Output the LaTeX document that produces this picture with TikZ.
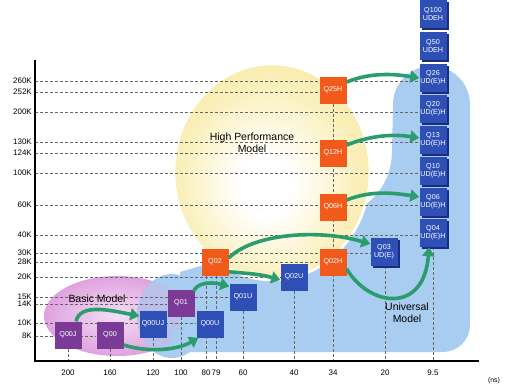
\documentclass[tikz,border=0pt]{standalone}
\usepackage{fontspec}
\setmainfont{Liberation Sans}
\usetikzlibrary{arrows.meta,calc,shadows}
\definecolor{purplec}{HTML}{7B3A96}
\definecolor{bluec}{HTML}{2E4FB6}
\definecolor{navyc}{HTML}{1B2C80}
\definecolor{orangec}{HTML}{F25A1C}
\definecolor{greenc}{HTML}{2A9C6E}
\definecolor{skyc}{HTML}{A9CDF0}
\definecolor{yellowc}{HTML}{F6E38A}
\definecolor{paleyc}{HTML}{FAF0BC}
\definecolor{pinkc}{HTML}{DFA2DF}
\definecolor{dashc}{HTML}{666666}
\pgfdeclareradialshading{yshade}{\pgfpoint{-2bp}{-4bp}}{color(0bp)=(white); color(7bp)=(white); color(22bp)=(paleyc); color(40bp)=(yellowc); color(50bp)=(yellowc)}
\pgfdeclarelayer{blobs}
\pgfdeclarelayer{gridlayer}
\pgfsetlayers{blobs,gridlayer,main}
\begin{document}
\begin{tikzpicture}[x=1bp,y=-1bp,
  chip/.style={minimum width=27bp,minimum height=27bp,inner sep=0pt,text=white,font=\fontsize{7.2}{8}\selectfont,align=center},
  pchip/.style={chip,fill=purplec},
  ochip/.style={chip,fill=orangec},
  bchip/.style={chip,fill=bluec},
  shchip/.style={chip,fill=bluec,minimum width=27bp,minimum height=28bp,drop shadow={fill=navyc,opacity=1,shadow xshift=2bp,shadow yshift=-2bp}},
  gridline/.style={dashc,line width=0.6bp,dash pattern=on 3bp off 2bp},
  garrow/.style={greenc,line width=3.6bp,-{Triangle[length=9bp,width=12bp]}},
  ylab/.style={anchor=east,font=\fontsize{8}{9}\selectfont,inner sep=0pt},
  xlab/.style={anchor=center,font=\fontsize{8}{9}\selectfont,inner sep=0pt},
  model/.style={font=\fontsize{10.5}{12}\selectfont,align=center,inner sep=0pt}
]
\useasboundingbox (0,0) rectangle (505,387);

% axes reference points
\coordinate (o) at (35,361);
\coordinate (ytop) at (35,60);
\coordinate (xend) at (479,361);

% blobs
\begin{pgfonlayer}{blobs}
\shade[inner color=pinkc!35, outer color=pinkc] (117,316) ellipse [x radius=73, y radius=40];
\fill[skyc] (172,316) ellipse [x radius=35, y radius=42];
\begin{scope}
\clip (172,316) ellipse [x radius=35, y radius=42];
\fill[pinkc, opacity=0.3] (117,316) ellipse [x radius=73, y radius=40];
\end{scope}
\fill[skyc] (180,352) -- (180,272) .. controls (250,252) and (320,225) .. (365,205)
  .. controls (385,190) and (392,170) .. (392,150) -- (393,104.5)
  arc[start angle=180,end angle=360,radius=38.5] -- (470,325)
  arc[start angle=0,end angle=90,radius=27] -- cycle;
\fill[skyc] (172,352) rectangle (182,330);
\shadedraw[shading=yshade, draw=white, line width=2.5bp] (272,172) ellipse [x radius=98, y radius=108];
\end{pgfonlayer}

% model labels
\node[model] (basic) at (97,299) {Basic Model};
\node[model] (high) at (252,143) {High Performance\\Model};
\node[model] (univ) at (407,313) {Universal\\Model};

% axis labels
\node[ylab] (l260) at (32,81) {260K};
\node[ylab] (l252) at (32,92) {252K};
\node[ylab] (l200) at (32,112) {200K};
\node[ylab] (l130) at (32,142) {130K};
\node[ylab] (l124) at (32,153) {124K};
\node[ylab] (l100) at (32,173) {100K};
\node[ylab] (l60) at (32,205) {60K};
\node[ylab] (l40) at (32,235) {40K};
\node[ylab] (l30) at (32,253) {30K};
\node[ylab] (l28) at (32,262) {28K};
\node[ylab] (l20) at (32,277) {20K};
\node[ylab] (l15) at (32,297) {15K};
\node[ylab] (l14) at (32,304) {14K};
\node[ylab] (l10) at (32,323) {10K};
\node[ylab] (l8) at (32,336) {8K};

\node[xlab] (x200) at (68,373) {200};
\node[xlab] (x160) at (110,373) {160};
\node[xlab] (x120) at (153,373) {120};
\node[xlab] (x100) at (181,373) {100};
\node[xlab] (x80) at (206,373) {80};
\node[xlab] (x79) at (216,373) {79};
\node[xlab] (x60) at (243,373) {60};
\node[xlab] (x40) at (294,373) {40};
\node[xlab] (x34) at (333,373) {34};
\node[xlab] (x20) at (385,373) {20};
\node[xlab] (x95) at (433,373) {9.5};
\node[font=\fontsize{7}{8}\selectfont,inner sep=0pt] (ns) at (494,381) {(ns)};

% chips
\node[pchip] (q00j) at (68,335) {Q00J};
\node[pchip] (q00) at (110,335) {Q00};
\node[bchip] (q00uj) at (153,324) {Q00UJ};
\node[pchip] (q01) at (181,303) {Q01};
\node[bchip] (q00u) at (210,324) {Q00U};
\node[bchip] (q01u) at (243,297) {Q01U};
\node[ochip] (q02) at (215,262) {Q02};
\node[bchip] (q02u) at (294,277) {Q02U};
\node[ochip] (q02h) at (333,262) {Q02H};
\node[shchip] (q03) at (384,252) {Q03\\UD(E)};
\node[ochip] (q06h) at (333,207) {Q06H};
\node[ochip] (q12h) at (333,153) {Q12H};
\node[ochip] (q25h) at (333,90) {Q25H};
\node[shchip] (q04) at (433,233) {Q04\\UD(E)H};
\node[shchip] (q06) at (433,202) {Q06\\UD(E)H};
\node[shchip] (q10) at (433,171) {Q10\\UD(E)H};
\node[shchip] (q13) at (433,140) {Q13\\UD(E)H};
\node[shchip] (q20) at (433,109) {Q20\\UD(E)H};
\node[shchip] (q26) at (433,78) {Q26\\UD(E)H};
\node[shchip] (q50) at (433,46) {Q50\\UDEH};
\node[shchip] (q100) at (433,14) {Q100\\UDEH};

% grid lines
\begin{pgfonlayer}{gridlayer}
\draw[gridline] (o |- l260) -- (q26.west |- l260);
\draw[gridline] (o |- l252) -- (q25h.west |- l252);
\draw[gridline] (o |- l200) -- (q20.west |- l200);
\draw[gridline] (o |- l130) -- (q13.west |- l130);
\draw[gridline] (o |- l124) -- (q12h.west |- l124);
\draw[gridline] (o |- l100) -- (q10.west |- l100);
\draw[gridline] (o |- l60) -- (q06.west |- l60);
\draw[gridline] (o |- l40) -- (q04.west |- l40);
\draw[gridline] (o |- l30) -- (q03.west |- l30);
\draw[gridline] (o |- l28) -- (q02h.west |- l28);
\draw[gridline] (o |- l20) -- (q02u.west |- l20);
\draw[gridline] (o |- l15) -- (q01u.west |- l15);
\draw[gridline] (o |- l14) -- (q01.west |- l14);
\draw[gridline] (o |- l10) -- (q00u.west |- l10);
\draw[gridline] (o |- l8) -- (q00.west |- l8);
\draw[gridline] (x200 |- q00j.south) -- (x200 |- o);
\draw[gridline] (x160 |- q00.south) -- (x160 |- o);
\draw[gridline] (x120 |- q00uj.south) -- (x120 |- o);
\draw[gridline] (x100 |- q01.south) -- (x100 |- o);
\draw[gridline] (x80 |- q02.south) -- (x80 |- o);
\draw[gridline] (x79 |- q02.south) -- (x79 |- o);
\draw[gridline] (x60 |- q01u.south) -- (x60 |- o);
\draw[gridline] (x40 |- q02u.south) -- (x40 |- o);
\draw[gridline] (x34 |- q25h.south) -- (x34 |- o);
\draw[gridline] (x20 |- q03.south) -- (x20 |- o);
\draw[gridline] (x95 |- q04.south) -- (x95 |- o);
\end{pgfonlayer}

% axes
\draw[line width=1.2bp] (ytop) -- (o) -- (xend);

% arrows
\draw[garrow] ($(q00j.north)+(8,0)$) .. controls +(4,-18) and +(-30,-6) .. ($(q00uj.west)+(0,-8)$);
\draw[garrow] ($(q00.east)+(0,10)$) .. controls +(25,8) and +(-20,12) .. ($(q00u.south west)+(2,0)$);
\draw[garrow] ($(q01.north east)+(-1,2)$) .. controls +(3,-8) and +(-20,-5) .. ($(q01u.north west)+(0,3)$);
\draw[garrow] ($(q02.south east)+(0,-4)$) .. controls +(20,2) and +(-20,-6) .. ($(q02u.west)+(0,3)$);
\draw[garrow] ($(q02.east)+(0,-4)$) .. controls +(25,-25) and +(-50,-15) .. ($(q03.west)+(0,-8)$);
\draw[garrow] ($(q02h.east)+(0,7)$) .. controls +(23,38) and +(-5,67) .. ($(q04.south)+(-4,0)$);
\draw[garrow] ($(q06h.east)+(0,-7)$) .. controls +(25,-10) and +(-25,-4) .. ($(q06.west)+(0,-5)$);
\draw[garrow] ($(q12h.east)+(0,-8)$) .. controls +(25,-10) and +(-25,-4) .. ($(q13.west)+(0,-2)$);
\draw[garrow] ($(q25h.east)+(0,-8)$) .. controls +(25,-10) and +(-25,-4) .. (q26.west);
\end{tikzpicture}
\end{document}
